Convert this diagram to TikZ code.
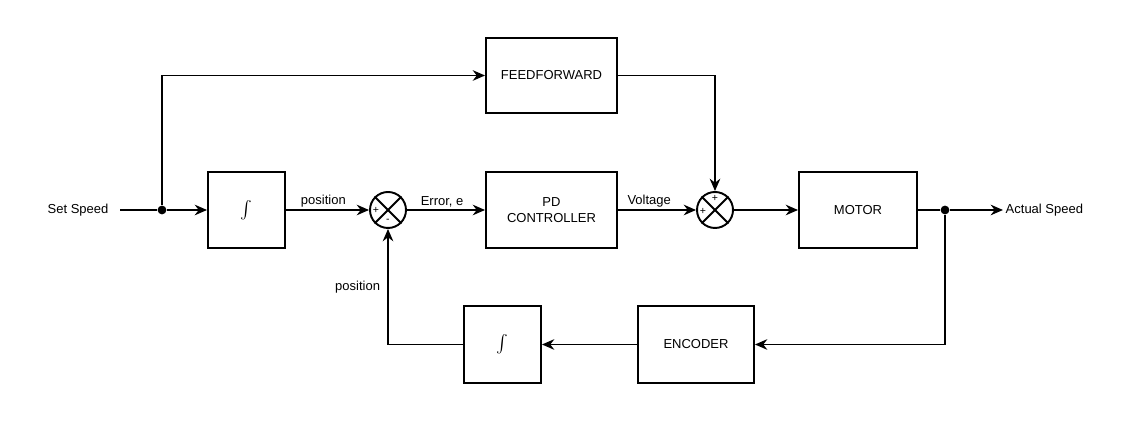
\documentclass[tikz,border=0pt]{standalone}
\usepackage{fontspec}
\setmainfont{Liberation Sans}
\usetikzlibrary{arrows.meta}
\begin{document}
\begin{tikzpicture}[x=0.02cm,y=-0.02cm,line width=1.1pt,
  font=\fontsize{7.4}{9}\selectfont,
  blk/.style={draw,rectangle,line width=1.1pt,inner sep=0pt,align=center},
  sum/.style={draw,circle,minimum size=36*0.02cm,inner sep=0pt,line width=1.1pt},
  arr/.style={-{Stealth[length=7pt,width=6pt]}},
  dot/.style={circle,fill,inner sep=0pt,minimum size=5pt},
  lbl/.style={inner sep=1pt}]
\useasboundingbox (0,0) rectangle (1126,421);
\node[lbl] (ss) at (78,210) {Set Speed};
\coordinate (ssin) at (120,210);
\node[dot] (d1) at (162,210) {};
\node[blk,minimum width=77*0.02cm,minimum height=76*0.02cm] (int1) at (246.5,210) {\Large$\int$};
\node[sum] (s1) at (388,210) {};
\node[blk,minimum width=131*0.02cm,minimum height=76*0.02cm] (pd) at (551.5,210) {PD\\CONTROLLER};
\node[blk,minimum width=131*0.02cm,minimum height=75*0.02cm] (ff) at (551.5,75.5) {FEEDFORWARD};
\node[sum] (s2) at (715,210) {};
\node[blk,minimum width=118*0.02cm,minimum height=76*0.02cm] (mot) at (858,210) {MOTOR};
\node[dot] (d2) at (945,210) {};
\node[lbl,anchor=west] (as) at (1003,210) {Actual Speed};
\node[blk,minimum width=116*0.02cm,minimum height=77*0.02cm] (enc) at (696,344.5) {ENCODER};
\node[blk,minimum width=77*0.02cm,minimum height=77*0.02cm] (int2) at (502.5,344.5) {\Large$\int$};
% crosses in sums
\foreach \s in {s1,s2}{
  \draw (\s.45) -- (\s.225);
  \draw (\s.135) -- (\s.315);
}
\node[font=\fontsize{6}{7}\selectfont] at (376,210) {+};
\node[font=\fontsize{6}{7}\selectfont] at (388,221) {-};
\node[font=\fontsize{6}{7}\selectfont] at (703,211) {+};
\node[font=\fontsize{6}{7}\selectfont] at (715,198) {+};
% connectors
\draw (ssin) -- (d1);
\draw[arr] (d1) -- (int1);
\draw[arr] (d1) |- (ff);
\draw[arr] (int1) -- node[above,lbl,pos=0.45]{position} (s1);
\draw[arr] (s1) -- node[above,lbl,pos=0.45]{Error, e} (pd);
\draw[arr] (pd) -- node[above,lbl,pos=0.4]{Voltage} (s2);
\draw[arr] (ff.east) -| (s2);
\draw[arr] (s2) -- (mot);
\draw (mot) -- (d2);
\draw[arr] (d2) -- (as);
\draw[arr] (d2) |- (enc);
\draw[arr] (enc) -- (int2);
\draw[arr] (int2) -| node[pos=0.75,left,lbl,xshift=-3pt]{position} (s1);
\end{tikzpicture}
\end{document}
